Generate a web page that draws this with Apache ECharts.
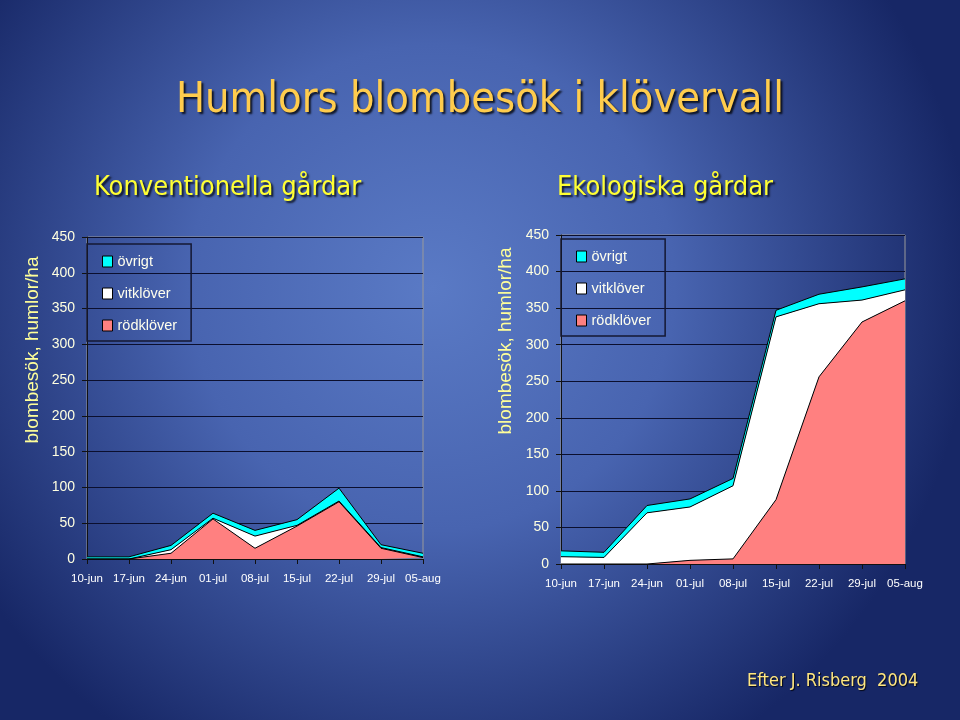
<!DOCTYPE html>
<html>
<head>
<meta charset="utf-8">
<script src="https://cdn.jsdelivr.net/npm/echarts@6/dist/echarts.min.js"></script>
<style>html,body{margin:0;padding:0;}#c{width:960px;height:720px;}</style>
</head>
<body>
<div id="c"></div>
<script>
var categories = ['10-jun','17-jun','24-jun','01-jul','08-jul','15-jul','22-jul','29-jul','05-aug'];
var seriesNames = ['rödklöver','vitklöver','övrigt'];
// Konventionella gårdar (stacked components)
var konvRod   = [0, 0, 8, 56, 15, 46, 80, 15, 2];
var konvVit   = [0, 0, 5, 1, 17, 1, 1, 1, 1];
var konvOvr   = [3, 3, 6, 7, 8, 8, 18, 4, 5];
// Ekologiska gårdar (stacked components)
var ekoRod    = [0, 0, 0, 5, 7, 88, 256, 331, 360];
var ekoVit    = [10, 9, 70, 73, 100, 250, 100, 30, 15];
var ekoOvr    = [8, 7, 10, 11, 10, 9, 13, 18, 15];

var fills = {'rödklöver':'#FF8080','vitklöver':'#FFFFFF','övrigt':'#00FFFF'};

var chart = echarts.init(document.getElementById('c'));

function xAxis(gi){
  return {
    type:'category', gridIndex:gi, data:categories, boundaryGap:false,
    axisLine:{lineStyle:{color:'#111',width:1}},
    axisTick:{show:true,length:5,interval:0,lineStyle:{color:'#111'}},
    axisLabel:{color:'#FFFFFF',fontSize:11.5,interval:0,fontFamily:'Liberation Sans, Arial',margin:14}
  };
}
function yAxis(gi){
  return {
    type:'value', gridIndex:gi, min:0, max:450, interval:50,
    axisLine:{show:true,lineStyle:{color:'#111',width:1}},
    axisTick:{show:true,length:5,lineStyle:{color:'#111'}},
    axisLabel:{color:'#FFFFE0',fontSize:14,fontFamily:'Liberation Sans, Arial',margin:12},
    splitLine:{show:true,lineStyle:{color:'#0b0f2e',width:1}}
  };
}
function ser(name, data, gi){
  return {
    type:'line', name:name, xAxisIndex:gi, yAxisIndex:gi, stack:'s'+gi,
    data:data, symbol:'none', smooth:false,
    itemStyle:{color:fills[name]},
    lineStyle:{color:'#000',width:1},
    areaStyle:{color:fills[name],opacity:1}
  };
}
function legend(left, top){
  return {
    data:['övrigt','vitklöver','rödklöver'], orient:'vertical', left:left, top:top,
    icon:'rect', itemWidth:10, itemHeight:11, itemGap:17,
    padding:[10,14,8,15], borderColor:'#141833', borderWidth:1.5,
    itemStyle:{borderColor:'#000',borderWidth:1},
    textStyle:{color:'#FFFFEE',fontSize:14.5,lineHeight:14,fontFamily:'Liberation Sans, Arial'},
    selectedMode:false
  };
}

var titleFont = 'DejaVu Sans Condensed, DejaVu Sans, sans-serif';
var shadow = {textShadowColor:'rgba(0,0,0,0.8)',textShadowOffsetX:2,textShadowOffsetY:2,textShadowBlur:2};
var option = {
  backgroundColor:{type:'radial',x:0.45,y:0.4,r:0.75,colorStops:[
    {offset:0,color:'#5a7ac5'},{offset:0.45,color:'#4864b0'},{offset:1,color:'#172766'}]},
  animation:false,
  title:[
    {text:'Humlors blombesök i klövervall', left:'center', top:74,
     textStyle:Object.assign({color:'#FFCC4D',fontSize:43,fontWeight:'normal',fontFamily:titleFont},shadow)},
    {text:'Konventionella gårdar', left:89, top:169,
     textStyle:Object.assign({color:'#FFFF33',fontSize:27,fontWeight:'normal',fontFamily:titleFont},shadow)},
    {text:'Ekologiska gårdar', left:552, top:169,
     textStyle:Object.assign({color:'#FFFF33',fontSize:27,fontWeight:'normal',fontFamily:titleFont},shadow)},
    {text:'Efter J. Risberg  2004', left:742, top:667,
     textStyle:{color:'#FFE680',fontSize:18,fontWeight:'normal',fontFamily:titleFont,
       textShadowColor:'rgba(0,0,0,0.8)',textShadowOffsetX:1,textShadowOffsetY:1,textShadowBlur:1}}
  ],
  graphic:[
    {type:'text', x:33, y:350, rotation:Math.PI/2, style:{text:'blombesök, humlor/ha', fill:'#FFFF99',
      font:'19px Liberation Sans, Arial', textAlign:'center', textVerticalAlign:'middle'}},
    {type:'text', x:506, y:341, rotation:Math.PI/2, style:{text:'blombesök, humlor/ha', fill:'#FFFF99',
      font:'19px Liberation Sans, Arial', textAlign:'center', textVerticalAlign:'middle'}}
  ],
  grid:[
    {left:87, right:537, top:237, bottom:161, show:true, borderColor:'#9a9a9a', borderWidth:1, backgroundColor:'transparent'},
    {left:561, right:55, top:235, bottom:156, show:true, borderColor:'#9a9a9a', borderWidth:1, backgroundColor:'transparent'}
  ],
  legend:[legend(87,244), legend(561,239)],
  xAxis:[xAxis(0), xAxis(1)],
  yAxis:[yAxis(0), yAxis(1)],
  series:[
    ser('rödklöver', konvRod, 0), ser('vitklöver', konvVit, 0), ser('övrigt', konvOvr, 0),
    ser('rödklöver', ekoRod, 1), ser('vitklöver', ekoVit, 1), ser('övrigt', ekoOvr, 1)
  ]
};
chart.setOption(option);
</script>
</body>
</html>
